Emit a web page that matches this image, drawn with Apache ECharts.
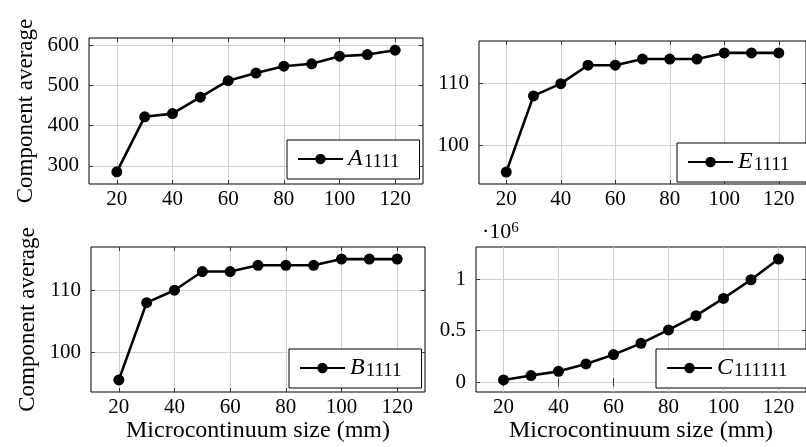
<!DOCTYPE html>
<html>
<head>
<meta charset="utf-8">
<script src="https://cdn.jsdelivr.net/npm/echarts@6/dist/echarts.min.js"></script>
<style>
  html, body { margin: 0; padding: 0; background: #fff; }
  #chart { width: 806px; height: 447px; }
</style>
</head>
<body>
<div id="chart"></div>
<script>
// microcontinuum sizes (mm)
const sizes = [20, 30, 40, 50, 60, 70, 80, 90, 100, 110, 120];
const seriesA = [285, 422, 430, 471, 512, 531, 548, 554, 573, 577, 588];
const seriesE = [95.6, 108, 110, 113, 113, 114, 114, 114, 115, 115, 115];
const seriesB = [95.6, 108, 110, 113, 113, 114, 114, 114, 115, 115, 115];
const seriesC = [23000, 65000, 106000, 178000, 268000, 377000, 507000, 645000, 812000, 993000, 1193000];

const xTicks = [20, 40, 60, 80, 100, 120];
const yTicksA = [300, 400, 500, 600];
const yTicksEB = [100, 110];
const yTicksC = [0, 500000, 1000000];

const letters = ['A', 'E', 'B', 'C'];
const subs = ['1111', '1111', '1111', '111111'];

const FONT = 'Liberation Serif';

// pgfplots style: 10% enlarge of data range
function enlarge(arr) {
  const lo = Math.min(...arr), hi = Math.max(...arr);
  const r = (hi - lo) * 0.1;
  return [lo - r, hi + r];
}

const panels = [
  { data: seriesA, ticks: yTicksA, grid: { left: 89, top: 38, width: 334, height: 146 }, legend: { left: 287, top: 140 }, yName: 'Component average', xName: '' },
  { data: seriesE, ticks: yTicksEB, grid: { left: 479, top: 41, width: 334, height: 143 }, legend: { left: 677, top: 143 }, yName: '', xName: '' },
  { data: seriesB, ticks: yTicksEB, grid: { left: 91, top: 247, width: 334, height: 145 }, legend: { left: 289, top: 349 }, yName: 'Component average', xName: 'Microcontinuum size (mm)' },
  { data: seriesC, ticks: yTicksC, grid: { left: 476, top: 247, width: 334, height: 145 }, legend: { left: 656, top: 349 }, yName: '', xName: 'Microcontinuum size (mm)' },
];

const richSub = {
  i: { fontFamily: FONT, fontStyle: 'italic', fontSize: 24, color: '#000', lineHeight: 26 },
  s: { fontFamily: FONT, fontSize: 19, color: '#000', verticalAlign: 'bottom', lineHeight: 26, padding: [5, 0, 0, 1] },
};

const tickStyle = { color: '#333', width: 1 };
const gridLine = { show: true, lineStyle: { color: '#cfcfcf', width: 1 } };

const grids = [], xAxes = [], yAxes = [], series = [], legends = [];

panels.forEach((p, k) => {
  const name = letters[k] + subs[k];
  const yr = enlarge(p.data);
  grids.push(Object.assign({ show: true, borderColor: '#000', borderWidth: 1, backgroundColor: 'transparent' }, p.grid));
  // main axes: index 2k, mirrored tick-only axes: 2k+1
  xAxes.push({
    type: 'value', gridIndex: k, min: 10, max: 130, position: 'bottom',
    axisLine: { show: false },
    axisTick: { show: true, inside: true, length: 4, customValues: xTicks, lineStyle: tickStyle },
    axisLabel: { customValues: xTicks, fontFamily: FONT, fontSize: 21, color: '#000', margin: 5 },
    splitLine: gridLine,
    name: p.xName, nameLocation: 'middle', nameGap: 26,
    nameTextStyle: { fontFamily: FONT, fontSize: 24, color: '#000' },
  });
  xAxes.push({
    type: 'value', gridIndex: k, min: 10, max: 130, position: 'top',
    axisLine: { show: false },
    axisTick: { show: true, inside: true, length: 4, customValues: xTicks, lineStyle: tickStyle },
    axisLabel: { show: false },
    splitLine: { show: false },
  });
  yAxes.push({
    type: 'value', gridIndex: k, min: yr[0], max: yr[1], position: 'left',
    axisLine: { show: false },
    axisTick: { show: true, inside: true, length: 4, customValues: p.ticks, lineStyle: tickStyle },
    axisLabel: {
      customValues: p.ticks, fontFamily: FONT, fontSize: 21, color: '#000', margin: 10,
      formatter: k === 3 ? (v) => String(v / 1e6) : (v) => String(v),
    },
    splitLine: gridLine,
    name: k === 3 ? '·10{sup|6}' : p.yName,
    nameLocation: k === 3 ? 'end' : 'middle',
    nameGap: k === 3 ? 4 : 52,
    nameTextStyle: k === 3
      ? { fontFamily: FONT, fontSize: 22, color: '#000', align: 'left', padding: [0, 0, 0, 6],
          rich: { sup: { fontFamily: FONT, fontSize: 15, color: '#000', verticalAlign: 'top' } } }
      : { fontFamily: FONT, fontSize: 23, color: '#000' },
  });
  yAxes.push({
    type: 'value', gridIndex: k, min: yr[0], max: yr[1], position: 'right',
    axisLine: { show: false },
    axisTick: { show: true, inside: true, length: 4, customValues: p.ticks, lineStyle: tickStyle },
    axisLabel: { show: false },
    splitLine: { show: false },
  });
  series.push({
    name: name, type: 'line', xAxisIndex: 2 * k, yAxisIndex: 2 * k,
    data: sizes.map((x, j) => [x, p.data[j]]),
    symbol: 'circle', symbolSize: 11,
    lineStyle: { color: '#000', width: 2.6 },
    itemStyle: { color: '#000' },
  });
  legends.push({
    data: [name], left: p.legend.left, top: p.legend.top,
    backgroundColor: '#fff', borderColor: '#000', borderWidth: 1,
    padding: [7, 20, 7, 10], itemWidth: 45, itemHeight: 13, itemGap: 0,
    formatter: () => '{i|' + letters[k] + '}{s|' + subs[k] + '}',
    textStyle: { fontFamily: FONT, rich: richSub },
  });
});

const chart = echarts.init(document.getElementById('chart'));
chart.setOption({
  animation: false,
  backgroundColor: '#fff',
  textStyle: { fontFamily: FONT, color: '#000' },
  grid: grids,
  xAxis: xAxes,
  yAxis: yAxes,
  series: series,
  legend: legends,
});
</script>
</body>
</html>
